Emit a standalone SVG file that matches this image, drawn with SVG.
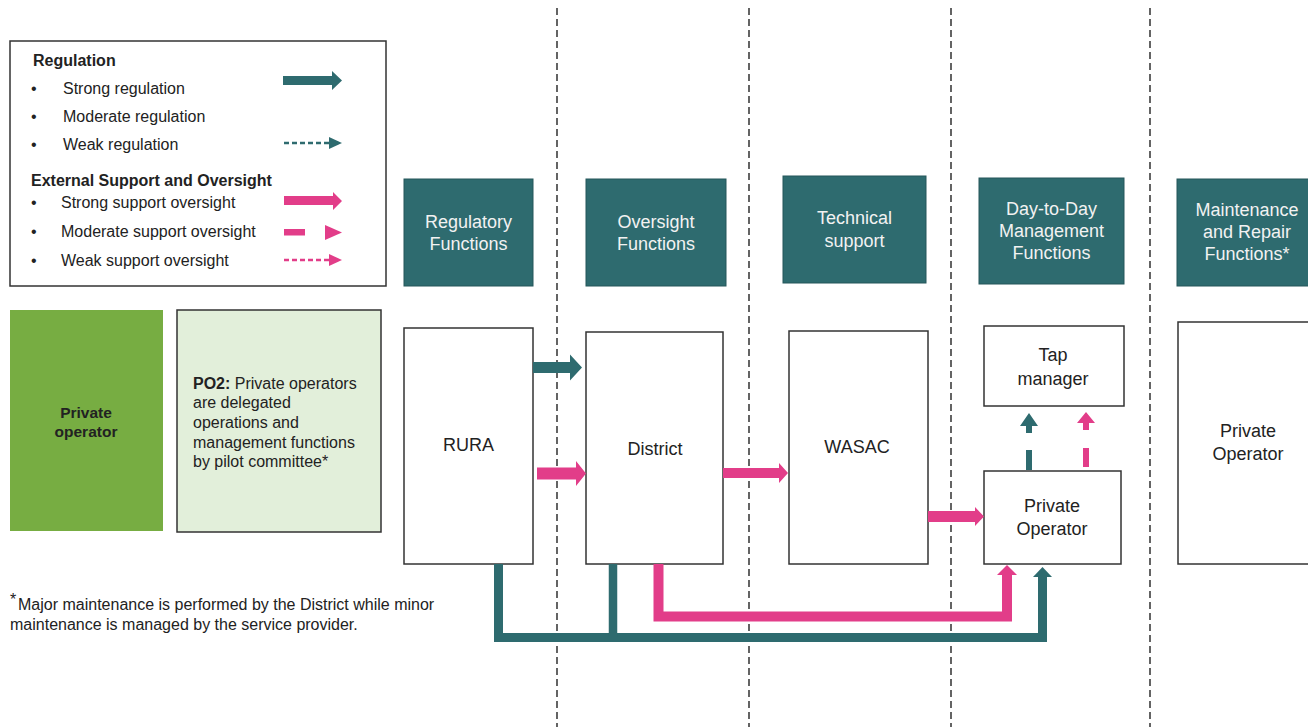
<svg xmlns="http://www.w3.org/2000/svg" width="1308" height="727" viewBox="0 0 1308 727">
<style>
text{font-family:"Liberation Sans",Arial,sans-serif;fill:#222}
.hd{fill:#2E6B6F;stroke:#24575B;stroke-width:1}
.hdt{fill:#F2F2F2;font-size:18px;text-anchor:middle}
.nd{fill:#fff;stroke:#333;stroke-width:1.5}
.ndt{font-size:18px;text-anchor:middle}
.lg{font-size:16px}
.b{font-weight:bold}
.sep{stroke:#111;stroke-width:1.3;stroke-dasharray:7 4;fill:none}
.teal{fill:#2E6B6F}
.pink{fill:#E23D89}
</style>
<rect width="1308" height="727" fill="#fff"/>
<g id="separators">
<line class="sep" x1="557" y1="8" x2="557" y2="727"/>
<line class="sep" x1="749" y1="8" x2="749" y2="727"/>
<line class="sep" x1="951" y1="8" x2="951" y2="727"/>
<line class="sep" x1="1150" y1="8" x2="1150" y2="727"/>
</g>
<g id="legend">
<rect x="10" y="41" width="376" height="245" fill="#fff" stroke="#333" stroke-width="1.5"/>
<text class="lg b" x="33" y="66" font-size="15.5">Regulation</text>
<text class="lg" x="31" y="94">•</text><text class="lg" x="63" y="94">Strong regulation</text>
<text class="lg" x="31" y="122">•</text><text class="lg" x="63" y="122">Moderate regulation</text>
<text class="lg" x="31" y="150">•</text><text class="lg" x="63" y="150">Weak regulation</text>
<text class="lg b" x="31" y="186">External Support and Oversight</text>
<text class="lg" x="31" y="208">•</text><text class="lg" x="61" y="208">Strong support oversight</text>
<text class="lg" x="31" y="237">•</text><text class="lg" x="61" y="237">Moderate support oversight</text>
<text class="lg" x="31" y="266">•</text><text class="lg" x="61" y="266">Weak support oversight</text>
<path class="teal" d="M283 76 H332 V71 L342 80.5 L332 90 V85 H283 Z"/>
<line x1="284" y1="143" x2="329" y2="143" stroke="#2E6B6F" stroke-width="2.5" stroke-dasharray="5 3"/>
<polygon class="teal" points="329,137 342,143 329,149"/>
<path class="pink" d="M284 196 H333 V192 L342 201 L333 210 V205 H284 Z"/>
<rect class="pink" x="284" y="229" width="21" height="6.5"/>
<polygon class="pink" points="325,225 342,232.5 325,240"/>
<line x1="284" y1="260" x2="329" y2="260" stroke="#E23D89" stroke-width="2.5" stroke-dasharray="5 3"/>
<polygon class="pink" points="329,254 342,260 329,266"/>
</g>
<g id="po-label">
<rect x="10" y="310" width="153" height="221" fill="#77AD42"/>
<text class="b" x="86" y="418" font-size="15.5" text-anchor="middle">Private</text>
<text class="b" x="86" y="437" font-size="15.5" text-anchor="middle">operator</text>
</g>
<g id="po2-desc">
<rect x="177" y="310" width="204" height="222" fill="#E2EFDA" stroke="#333" stroke-width="1.5"/>
<text x="193" y="389" font-size="16"><tspan font-weight="bold">PO2:</tspan> Private operators</text>
<text x="193" y="408" font-size="16">are delegated</text>
<text x="193" y="428" font-size="16">operations and</text>
<text x="193" y="448" font-size="16">management functions</text>
<text x="193" y="467" font-size="16">by pilot committee*</text>
</g>
<g id="footnote">
<text x="10" y="605" font-size="16">*</text>
<text x="18" y="610" font-size="16">Major maintenance is performed by the District while minor</text>
<text x="10" y="630" font-size="16">maintenance is managed by the service provider.</text>
</g>
<g id="hdr-regulatory">
<rect class="hd" x="404" y="179" width="129" height="107"/>
<text class="hdt" x="468.5" y="228">Regulatory</text>
<text class="hdt" x="468.5" y="250">Functions</text>
</g>
<g id="hdr-oversight">
<rect class="hd" x="586" y="179" width="140" height="107"/>
<text class="hdt" x="656" y="228">Oversight</text>
<text class="hdt" x="656" y="250">Functions</text>
</g>
<g id="hdr-technical">
<rect class="hd" x="783" y="176" width="143" height="107"/>
<text class="hdt" x="854.5" y="224">Technical</text>
<text class="hdt" x="854.5" y="247">support</text>
</g>
<g id="hdr-daytoday">
<rect class="hd" x="979" y="178" width="145" height="106"/>
<text class="hdt" x="1051.5" y="215">Day-to-Day</text>
<text class="hdt" x="1051.5" y="237">Management</text>
<text class="hdt" x="1051.5" y="259">Functions</text>
</g>
<g id="hdr-maintenance">
<rect class="hd" x="1177" y="179" width="135" height="107"/>
<text class="hdt" x="1247" y="216">Maintenance</text>
<text class="hdt" x="1247" y="238">and Repair</text>
<text class="hdt" x="1247" y="260">Functions*</text>
</g>
<g id="rura">
<rect class="nd" x="404" y="328" width="129" height="236"/>
<text class="ndt" x="468.5" y="451">RURA</text>
</g>
<g id="district">
<rect class="nd" x="586" y="332" width="137" height="232"/>
<text class="ndt" x="655" y="455">District</text>
</g>
<g id="wasac">
<rect class="nd" x="789" y="331" width="139" height="233"/>
<text class="ndt" x="857" y="453">WASAC</text>
</g>
<g id="tap-manager">
<rect class="nd" x="984" y="326" width="140" height="80"/>
<text class="ndt" x="1053" y="361">Tap</text>
<text class="ndt" x="1053" y="385">manager</text>
</g>
<g id="private-operator">
<rect class="nd" x="984" y="471" width="137" height="93"/>
<text class="ndt" x="1052" y="512">Private</text>
<text class="ndt" x="1052" y="535">Operator</text>
</g>
<g id="private-operator-maint">
<rect class="nd" x="1178" y="322" width="140" height="242"/>
<text class="ndt" x="1248" y="437">Private</text>
<text class="ndt" x="1248" y="460">Operator</text>
</g>
<g id="connectors">
<path class="teal" d="M533 362 H570 V354.5 L582 367.5 L570 380.5 V373 H533 Z"/>
<path class="pink" d="M537 467.5 H576 V461 L586 473.5 L576 486 V479.5 H537 Z"/>
<path class="pink" d="M723 468 H779 V463 L788 473 L779 483 V478 H723 Z"/>
<path class="pink" d="M928 511 H975 V507 L984 516.5 L975 526 V522 H928 Z"/>
<rect class="teal" x="1026" y="450" width="6" height="20"/>
<path class="teal" d="M1026 433 V426 H1020 L1029 413 L1038 426 H1032 V433 Z"/>
<rect class="pink" x="1083" y="448" width="6" height="19"/>
<path class="pink" d="M1083 430 V423 H1077 L1086 412 L1095 423 H1089 V430 Z"/>
<polyline points="498.5,564 498.5,637.5 1042.5,637.5 1042.5,576" fill="none" stroke="#2E6B6F" stroke-width="9" stroke-linejoin="miter"/>
<line x1="613" y1="564" x2="613" y2="637" stroke="#2E6B6F" stroke-width="8.5"/>
<polygon class="teal" points="1033,577 1052,577 1042.5,567"/>
<polyline points="658.5,564 658.5,616.5 1007,616.5 1007,574" fill="none" stroke="#E23D89" stroke-width="10" stroke-linejoin="miter"/>
<polygon class="pink" points="997,575 1017,575 1007,565"/>
</g>
</svg>
